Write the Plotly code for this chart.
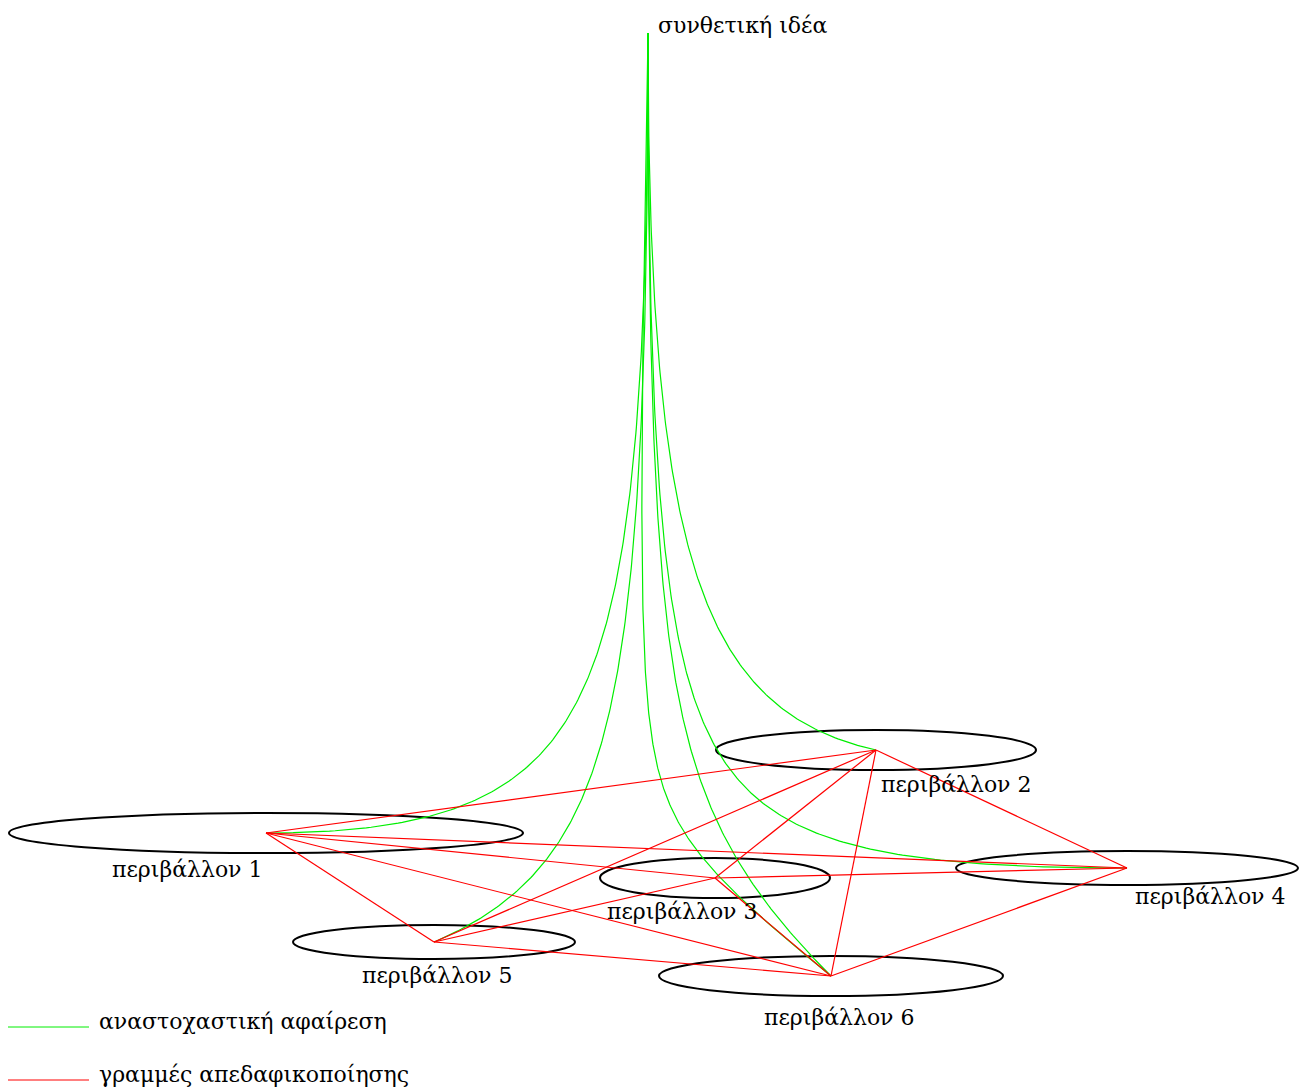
import numpy as np
import plotly.graph_objects as go

# ---------------- data ----------------
idea_name = "συνθετική ιδέα"
idea_x = 648
idea_y = 33

env_names = ["περιβάλλον 1", "περιβάλλον 2", "περιβάλλον 3",
             "περιβάλλον 4", "περιβάλλον 5", "περιβάλλον 6"]
env_x = [266, 876, 715, 1127, 434, 831]
env_y = [833, 750, 878, 868, 942, 976]
env_rx = [257, 160, 115, 171, 141, 172]
env_ry = [20, 20, 20, 17, 17, 20]

# red "deterritorialisation" links (1-based environment ids)
red_from = [1, 1, 1, 1, 1, 2, 2, 2, 2, 3, 3, 3, 4, 5]
red_to = [2, 3, 4, 5, 6, 3, 4, 5, 6, 4, 5, 6, 6, 6]

# green "reflective abstraction" links from the idea to environments
green_to = [1, 2, 4, 5, 6, 6]

legend_labels = ["αναστοχαστική αφαίρεση", "γραμμές απεδαφικοποίησης"]

# ---------------- style ----------------
GREEN = "#00ee00"
RED = "#ff0000"
FONT = "DejaVu Serif"
FS = 22
# bend style of each green curve: (control u, control v, weight)
green_bend = [(0.0, 1.0, 1.86), (0.0, 0.93, 1.4), (0.0, 1.0, 2.5),
              (0.0, 0.90, 1.7), (-0.08, 0.83, 4.0), (0.0, 0.806, 2.0)]
# label offsets relative to node
label_dx = [-79, 80, -33, 83, 3, 8]
label_dy = [36, 34, 33, 28, 33, 41]

W, H = 1299, 1088

fig = go.Figure()

# green curves (rational quadratic Bezier from idea to node)
t = np.linspace(0, 1, 200)
for k, tgt in enumerate(green_to):
    i = tgt - 1
    cu, cv, w = green_bend[k]
    den = (1 - t) ** 2 + 2 * w * t * (1 - t) + t ** 2
    u = (2 * w * t * (1 - t) * cu + t ** 2) / den
    v = (2 * w * t * (1 - t) * cv + t ** 2) / den
    xs = idea_x + u * (env_x[i] - idea_x)
    ys = idea_y + v * (env_y[i] - idea_y)
    fig.add_trace(go.Scatter(x=xs, y=ys, mode="lines",
                             line=dict(color=GREEN, width=1.2),
                             hoverinfo="skip", showlegend=False))

# red links
rx, ry = [], []
for a, b in zip(red_from, red_to):
    rx += [env_x[a - 1], env_x[b - 1], None]
    ry += [env_y[a - 1], env_y[b - 1], None]
fig.add_trace(go.Scatter(x=rx, y=ry, mode="lines",
                         line=dict(color=RED, width=1.2),
                         hoverinfo="skip", showlegend=False))

shapes = []
annotations = []
for i in range(len(env_names)):
    shapes.append(dict(type="circle", xref="x", yref="y",
                       x0=env_x[i] - env_rx[i], x1=env_x[i] + env_rx[i],
                       y0=env_y[i] - env_ry[i], y1=env_y[i] + env_ry[i],
                       line=dict(color="black", width=2),
                       fillcolor="rgba(0,0,0,0)", layer="below"))
    annotations.append(dict(x=env_x[i] + label_dx[i], y=env_y[i] + label_dy[i],
                            xref="x", yref="y", text=env_names[i],
                            showarrow=False, xanchor="center", yanchor="middle",
                            font=dict(family=FONT, size=FS, color="black")))

annotations.append(dict(x=idea_x + 8, y=idea_y - 8, xref="x", yref="y",
                        text=idea_name, showarrow=False,
                        xanchor="left", yanchor="middle",
                        font=dict(family=FONT, size=FS, color="black")))

# manual legend
leg_colors = [GREEN, RED]
leg_y = [1027, 1080]
for lbl, col, ly in zip(legend_labels, leg_colors, leg_y):
    shapes.append(dict(type="line", xref="x", yref="y", x0=8, x1=89,
                       y0=ly, y1=ly, line=dict(color=col, width=1)))
    annotations.append(dict(x=97, y=ly - 6, xref="x", yref="y", text=lbl,
                            showarrow=False, xanchor="left", yanchor="middle",
                            font=dict(family=FONT, size=FS, color="black")))

fig.update_layout(
    width=W, height=H,
    margin=dict(l=0, r=0, t=0, b=0),
    paper_bgcolor="white", plot_bgcolor="white",
    xaxis=dict(range=[0, W], visible=False, fixedrange=True),
    yaxis=dict(range=[H, 0], visible=False, fixedrange=True),
    shapes=shapes, annotations=annotations, showlegend=False,
)

fig.write_html(
    "out.html",
    config={"displayModeBar": False},
    post_script="document.body.style.margin='0px';"
                "document.body.style.overflow='hidden';",
)
